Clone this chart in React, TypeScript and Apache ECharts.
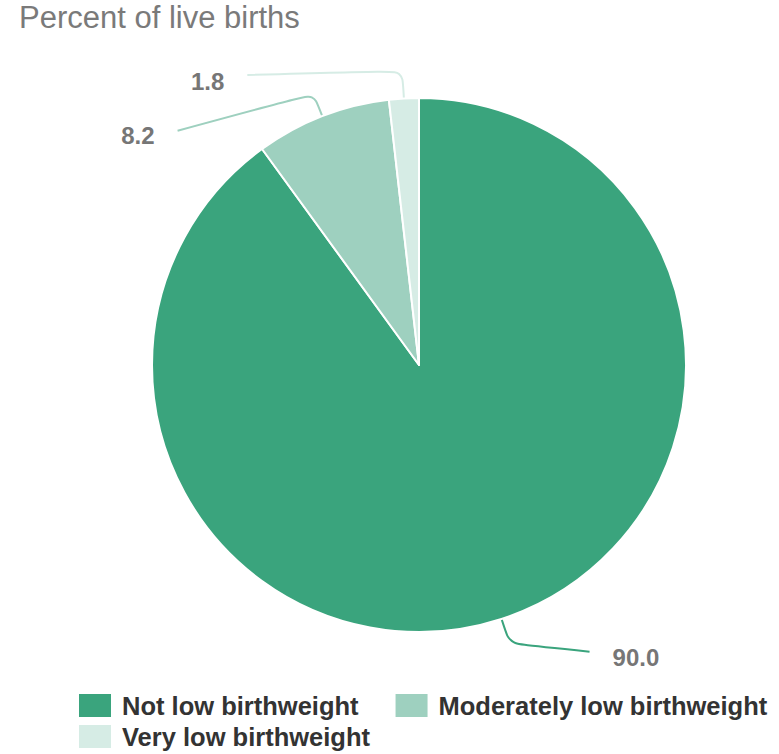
import React, { useEffect, useRef } from "react";
import * as echarts from "echarts";

const title = "Percent of live births";
const categories = ["Not low birthweight", "Moderately low birthweight", "Very low birthweight"];
const values = [90.0, 8.2, 1.8];
const colors = ["#3aa47d", "#9ed0bf", "#d6ece5"];

// style tweaks for the label leader lines (per slice)
const lineLen = [26, 24, 28];
const lineLen2 = [80, 136, 155];
const lineEndShift = [8, 37, 4.5];
const textShift = [14, 42, 11.5];

export default function App() {
  const ref = useRef<HTMLDivElement>(null);
  useEffect(() => {
    if (!ref.current) return;
    const chart = echarts.init(ref.current, null, { renderer: "svg" });
    const font = "'Liberation Sans', Arial, sans-serif";
    chart.setOption({
      animation: false,
      title: {
        text: title,
        left: 19,
        top: 2,
        padding: 0,
        textStyle: { fontFamily: font, fontSize: 31, fontWeight: "normal", color: "#7a7a7a" },
      },
      legend: [
        {
          data: categories.slice(0, 2),
          left: 77,
          top: 692,
          padding: 0,
          orient: "horizontal",
          itemWidth: 34,
          itemHeight: 25,
          itemGap: 35,
          icon: "rect",
          selectedMode: false,
          textStyle: { fontFamily: font, fontSize: 25.5, fontWeight: "bold", color: "#333", padding: [0, 0, 0, 5] },
        },
        {
          data: categories.slice(2),
          left: 77,
          top: 723,
          padding: 0,
          itemWidth: 34,
          itemHeight: 25,
          icon: "rect",
          selectedMode: false,
          textStyle: { fontFamily: font, fontSize: 25.5, fontWeight: "bold", color: "#333", padding: [0, 0, 0, 5] },
        },
      ],
      series: [
        {
          type: "pie",
          center: [419, 365],
          radius: [0, 267],
          startAngle: 90,
          clockwise: true,
          avoidLabelOverlap: false,
          emphasis: { disabled: true },
          itemStyle: { borderColor: "#ffffff", borderWidth: 2 },
          label: {
            show: true,
            position: "outside",
            fontFamily: font,
            fontSize: 24,
            fontWeight: "bold",
            color: "#767676",
            distanceToLabelLine: 23,
            formatter: (p: any) => Number(p.value).toFixed(1),
          },
          labelLine: { show: true, smooth: 0.25, lineStyle: { width: 2 } },
          labelLayout: (params: any) => {
            const i = params.dataIndex;
            const pts = params.labelLinePoints;
            const res: any = { dy: textShift[i] };
            if (pts && pts.length === 3) {
              res.labelLinePoints = [
                [pts[0][0], pts[0][1]],
                [pts[1][0], pts[1][1]],
                [pts[2][0], pts[2][1] + lineEndShift[i]],
              ];
            }
            return res;
          },
          data: categories.map((name, i) => ({
            name,
            value: values[i],
            itemStyle: { color: colors[i] },
            labelLine: { length: lineLen[i], length2: lineLen2[i] },
          })),
        },
      ],
    });
    return () => chart.dispose();
  }, []);
  return (
    <div
      ref={ref}
      style={{ position: "absolute", left: 0, top: 0, width: 779, height: 754, background: "#fff" }}
    />
  );
}
